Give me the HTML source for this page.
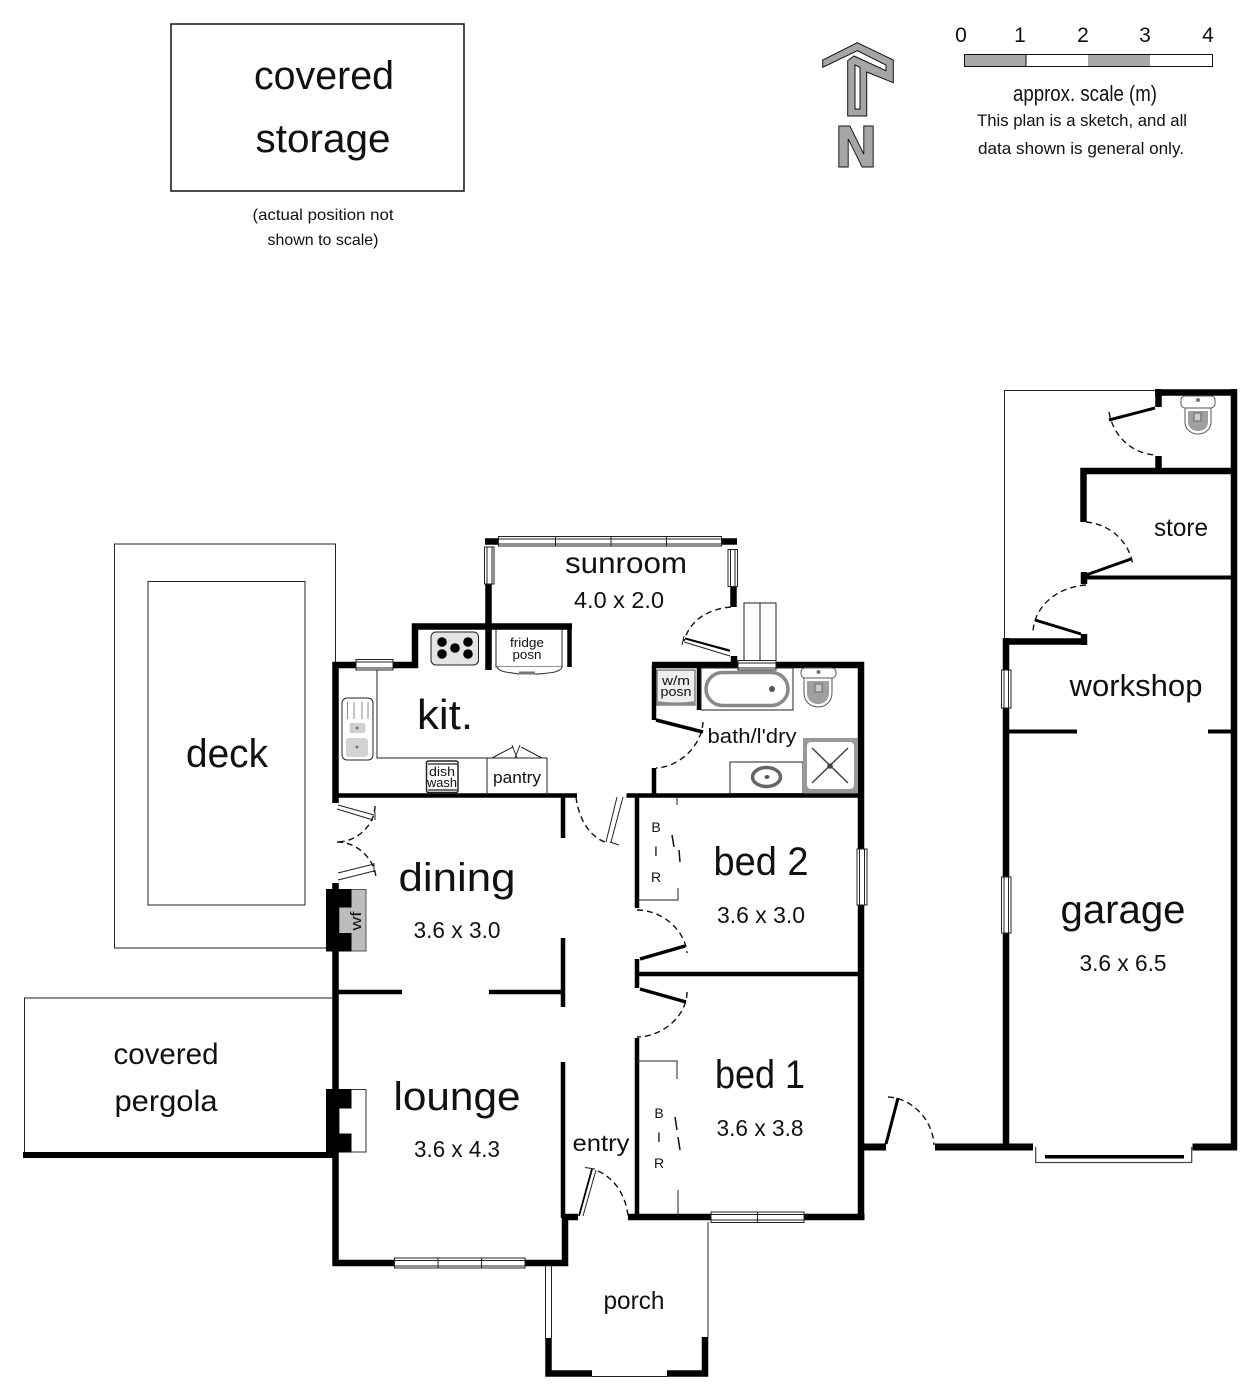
<!DOCTYPE html>
<html lang="en"><head><meta charset="utf-8"><title>Floor plan</title>
<style>
html,body{margin:0;padding:0;background:#fff}
svg{display:block}
text{font-family:"Liberation Sans",sans-serif;fill:#111;text-anchor:middle}
.w{stroke:#000;fill:none}
.t{stroke:#222;stroke-width:1;fill:none}
.d{stroke:#111;stroke-width:1.4;fill:none;stroke-dasharray:6 4}
.win{fill:#fff;stroke:#222;stroke-width:1}
</style></head><body>
<svg width="1260" height="1400" viewBox="0 0 1260 1400" xmlns="http://www.w3.org/2000/svg">
<rect width="1260" height="1400" fill="#fff"/>

<!-- storage -->
<rect x="171" y="24" width="293" height="167" fill="none" stroke="#111" stroke-width="1.5"/>
<text x="324" y="89" font-size="40" textLength="140" lengthAdjust="spacingAndGlyphs">covered</text>
<text x="323" y="152" font-size="40" textLength="135" lengthAdjust="spacingAndGlyphs">storage</text>
<text x="323" y="220" font-size="16" textLength="141" lengthAdjust="spacingAndGlyphs">(actual position not</text>
<text x="323" y="245" font-size="16" textLength="111" lengthAdjust="spacingAndGlyphs">shown to scale)</text>

<!-- north arrow -->
<path d="M893.300 60V82.700L866.700 72V116H847.700V60.700L854 56L886 70.700V65L857.300 50.700L822.700 67.300V60L857.300 42.700Z" fill="#a6a6a6" stroke="#111" stroke-width="1"/>
<path d="M855 65L860 67.300V109H855Z" fill="#fff" stroke="#111" stroke-width="1"/>
<text x="856" y="167" font-size="56" font-weight="bold" textLength="44" lengthAdjust="spacingAndGlyphs" style="font-family:'DejaVu Sans',sans-serif;fill:#a6a6a6;stroke:#111;stroke-width:1">N</text>

<!-- scale -->
<rect x="964.500" y="54.500" width="248" height="12" fill="#fff" stroke="#111" stroke-width="1"/>
<rect x="965" y="55" width="61" height="11" fill="#a8a8a8"/>
<rect x="1088" y="55" width="62" height="11" fill="#a8a8a8"/>
<line x1="1026" y1="55" x2="1026" y2="66" stroke="#111"/>
<g font-size="21">
<text x="961" y="42">0</text><text x="1020" y="42">1</text><text x="1083" y="42">2</text><text x="1145" y="42">3</text><text x="1208" y="42">4</text>
</g>
<text x="1085" y="101" font-size="22" textLength="144" lengthAdjust="spacingAndGlyphs">approx. scale (m)</text>
<text x="1082" y="126" font-size="17" textLength="210" lengthAdjust="spacingAndGlyphs">This plan is a sketch, and all</text>
<text x="1081" y="154" font-size="17" textLength="206" lengthAdjust="spacingAndGlyphs">data shown is general only.</text>

<!-- deck -->
<path class="t" d="M335.500 662V544H114.500V948H326"/>
<rect class="t" x="148" y="581.500" width="157" height="323.500"/>
<text x="227" y="767" font-size="40" textLength="82" lengthAdjust="spacingAndGlyphs">deck</text>

<!-- pergola -->
<path class="t" d="M332 998H24.500V1153"/>
<path class="w" stroke-width="6" d="M23 1155H333"/>
<text x="166" y="1064" font-size="30" textLength="105" lengthAdjust="spacingAndGlyphs">covered</text>
<text x="166" y="1111" font-size="30" textLength="103" lengthAdjust="spacingAndGlyphs">pergola</text>

<!-- house walls -->
<g class="w" stroke-width="6.500">
<path d="M335.500 662V803"/>
<path d="M335.500 883V1266"/>
<path d="M332.500 665H356M393 665H418M415 668V626.500H572"/>
<path d="M333 1263H395M525 1263H565V1217H578"/>
<path d="M628 1217H711M804 1217H864.500"/>
<path d="M861 662V849M861 905V1220"/>
<path d="M652 665H738M738 665H864"/>
<path d="M485 541.500H499M722 541.500H737"/>
<path d="M733.500 586V607"/>
<path d="M734 656V668"/>
<path d="M488.500 584V670"/>
</g>
<g class="w" stroke-width="4.500">
<path d="M569.500 627V667"/>
<path d="M333 795.500H577M626.500 795.500H861"/>
<path d="M563 795V838M563 938V1007M563 1062V1218"/>
<path d="M637 795V908M637 959V988M637 1038V1218"/>
<path d="M637 974H861"/>
<path d="M337 992H402M489 992H563"/>
<path d="M654 665V720M654 768V795"/>
<path d="M699 668V710"/>
</g>
<g class="w" stroke-width="3.500">
<path d="M656 720L703 732"/>
<path d="M640 959L685 946"/>
<path d="M640 989L686 1002"/>
</g>

<!-- windows: sunroom -->
<rect class="win" x="498.500" y="536.500" width="223" height="9.500"/>
<path class="t" d="M499 539H721M499 544H721M555.500 537V546M611 537V546M666.500 537V546"/>
<rect class="win" x="484.500" y="547" width="9.500" height="37"/>
<path class="t" d="M487 547V584M492 547V584"/>
<rect class="win" x="728" y="549.500" width="9.500" height="37"/>
<path class="t" d="M730.500 550V586M735 550V586"/>

<!-- sunroom door / steps -->
<path class="d" d="M731 607C708 609 690 620 684 641"/>
<path class="t" d="M685 638L730 650M684 642L730 656M684 636L682 645"/>
<path class="w" stroke-width="1.800" d="M685 638.500L730 651"/>
<rect class="t" x="744" y="603" width="32" height="58"/>
<path class="t" d="M760 603V661"/>
<rect class="win" x="738" y="660.500" width="38" height="9.500"/>
<path class="t" d="M738 663H776"/>

<!-- kitchen -->
<rect class="win" x="356" y="659.500" width="37" height="10.500"/>
<path class="t" d="M356 662H393M356 668H393"/>
<path class="t" d="M377 670V758H547V795M487 758V795"/>
<rect x="431" y="632" width="47.500" height="33" rx="5" fill="#e3e3e3" stroke="#222" stroke-width="1"/>
<circle cx="442" cy="642" r="4.800"/><circle cx="468" cy="642" r="4.800"/><circle cx="455" cy="648" r="4.800"/><circle cx="442" cy="654" r="4.800"/><circle cx="468" cy="654" r="4.800"/>
<path class="t" d="M496 629V667H562V629"/>
<path d="M497 667C500 673 510 672 518 674H538C548 673 560 673 562 667" fill="#fff" stroke="#222" stroke-width="1"/>
<rect x="519" y="671.500" width="16" height="3" fill="#777"/>
<text x="527" y="647" font-size="13" textLength="34" lengthAdjust="spacingAndGlyphs">fridge</text>
<text x="527" y="659" font-size="13" textLength="29" lengthAdjust="spacingAndGlyphs">posn</text>
<rect x="342" y="698" width="31" height="62" rx="5" fill="#fff" stroke="#222" stroke-width="1"/>
<path d="M347.500 702V719M354 702V719M362 702V719M368 702V719" stroke="#888" stroke-width="1" fill="none"/>
<rect x="349.500" y="723" width="16" height="10" rx="2" fill="#cfcfcf"/>
<rect x="346" y="738" width="22" height="19" rx="3" fill="#d3d3d3"/>
<circle cx="357" cy="728" r="1.500" fill="#777"/><circle cx="357" cy="747" r="1.500" fill="#777"/>
<rect x="426.500" y="761" width="31.500" height="31.500" rx="2" fill="#fff" stroke="#222" stroke-width="1.500"/>
<path d="M428 764H457M428 790H457" stroke="#444" stroke-width="1.500"/>
<text x="442" y="776" font-size="13" textLength="26" lengthAdjust="spacingAndGlyphs">dish</text>
<text x="442" y="787" font-size="13" textLength="30" lengthAdjust="spacingAndGlyphs">wash</text>
<path class="t" d="M492 758L513 747M542 758L521 747M512 745L517 758M520 745L515 758"/>
<text x="517" y="783" font-size="17" textLength="48" lengthAdjust="spacingAndGlyphs">pantry</text>
<text x="445" y="729" font-size="42" textLength="56" lengthAdjust="spacingAndGlyphs">kit.</text>

<!-- bathroom -->
<rect x="657" y="670" width="38" height="35" fill="#eee" stroke="#444" stroke-width="1"/>
<path d="M658 701C665 703 688 703 694 701V705H658Z" fill="#888"/>
<text x="676" y="685" font-size="13" textLength="28" lengthAdjust="spacingAndGlyphs">w/m</text>
<text x="676" y="696" font-size="13" textLength="31" lengthAdjust="spacingAndGlyphs">posn</text>
<rect class="t" x="701" y="668" width="92" height="42"/>
<rect x="706" y="672.500" width="82" height="33" rx="16.500" fill="#fff" stroke="#888" stroke-width="3.500"/>
<circle cx="772" cy="689" r="3" fill="#555"/>
<rect x="801" y="668" width="35" height="10" rx="4" fill="#fff" stroke="#555" stroke-width="1"/>
<circle cx="818.500" cy="672" r="2" fill="#777"/>
<path d="M804 678H832V693C832 702 825 707 818 707C811 707 804 702 804 693Z" fill="#fff" stroke="#555" stroke-width="1"/>
<path d="M807 681H829V693C829 700 824 704 818 704C812 704 807 700 807 693Z" fill="#a0a0a0"/>
<rect x="815" y="684" width="7" height="8" fill="#ccc" stroke="#666" stroke-width="1"/>
<path class="d" d="M703 722C702 745 680 767 656 768"/>
<text x="752" y="743" font-size="20" textLength="89" lengthAdjust="spacingAndGlyphs">bath/l'dry</text>
<rect class="t" x="730" y="762" width="73" height="31.500"/>
<ellipse cx="766.500" cy="777" rx="14" ry="9.500" fill="#fff" stroke="#666" stroke-width="3.500"/>
<ellipse cx="767" cy="777" rx="2.500" ry="2" fill="#555"/>
<rect x="803" y="738" width="55" height="55" fill="#999"/>
<rect x="807" y="742" width="47" height="47" rx="4" fill="#fff"/>
<path d="M812 748L848 783M848 748L812 783" stroke="#444" stroke-width="1.500"/>
<circle cx="830" cy="766" r="2.800" fill="#444"/>

<!-- hall door top -->
<path class="d" d="M576 797C579 820 590 838 608 843"/>
<path class="t" d="M617 797L606 842M623 797L611 842M610 842L619 845"/>

<!-- deck doors -->
<path class="t" d="M338 805L374 815M337 809L373 820M375 812V820"/>
<path class="d" d="M375 806C375 824 358 842 337 842"/>
<path class="d" d="M337 842C358 842 375 860 376 878"/>
<path class="t" d="M338 873L374 864M338 880L374 871M374 863V872"/>

<!-- wood fire dining -->
<rect x="339" y="889.500" width="27" height="61.500" fill="#bdbdbd" stroke="#555" stroke-width="1"/>
<path d="M326 889H351.500V907.500H339V933H351.500V951.500H326Z" fill="#000"/>
<text font-size="15" transform="translate(361 921) rotate(-90)" textLength="19" lengthAdjust="spacingAndGlyphs">wf</text>

<!-- fireplace lounge -->
<rect x="339" y="1089.500" width="27" height="62.500" fill="#fff" stroke="#333" stroke-width="1"/>
<path d="M326 1089H351.500V1108.500H339V1133.500H351.500V1152.500H326Z" fill="#000"/>

<!-- bedroom doors -->
<path class="d" d="M637 910C662 910 685 930 687 953"/>
<path class="d" d="M687 992C687 1016 662 1037 637 1037"/>

<!-- BIR bed 2 -->
<path class="t" d="M637 900H678V888M677 797V805"/>
<path d="M672 835L674 847M679 850L680 862" stroke="#111" stroke-width="1.500"/>
<g font-size="14"><text x="656" y="832">B</text><text x="656" y="856">I</text><text x="656" y="882">R</text></g>

<!-- BIR bed 1 -->
<path class="t" d="M637 1061H677V1079M678 1190V1216"/>
<path d="M675 1117L677 1130M678 1137L680 1150" stroke="#111" stroke-width="1.500"/>
<g font-size="14"><text x="659" y="1118">B</text><text x="659" y="1142">I</text><text x="659" y="1168">R</text></g>

<!-- entry door -->
<path class="t" d="M579 1216L592 1169M583 1216L596 1170M585 1167.500L595 1169"/>
<path class="w" stroke-width="1.800" d="M579 1216L592 1169"/>
<path class="d" d="M598 1171C614 1178 626 1195 628 1216"/>

<!-- windows -->
<rect class="win" x="394.500" y="1258" width="130.500" height="10"/>
<path class="t" d="M395 1260.500H525M395 1266H525M438 1258V1268M481.500 1258V1268"/>
<rect class="win" x="711" y="1212" width="93" height="10.500"/>
<path class="t" d="M711 1214.500H804M711 1220H804M757.500 1212V1222"/>
<rect class="win" x="857" y="849" width="10" height="56"/>
<path class="t" d="M859.500 849V905M864.500 849V905"/>

<!-- porch -->
<path class="t" d="M545.500 1266V1338M551.500 1266V1338M708 1222V1337M592 1376.500H667"/>
<path class="w" stroke-width="6.500" d="M548.500 1338V1373.500H592M667 1373.500H705V1337"/>

<!-- house labels -->
<text x="626" y="573" font-size="30" textLength="122" lengthAdjust="spacingAndGlyphs">sunroom</text>
<text x="619" y="608" font-size="23" textLength="90" lengthAdjust="spacingAndGlyphs">4.0 x 2.0</text>
<text x="457" y="891" font-size="40" textLength="117" lengthAdjust="spacingAndGlyphs">dining</text>
<text x="457" y="938" font-size="23" textLength="87" lengthAdjust="spacingAndGlyphs">3.6 x 3.0</text>
<text x="761" y="875" font-size="40" textLength="95" lengthAdjust="spacingAndGlyphs">bed 2</text>
<text x="761" y="923" font-size="23" textLength="88" lengthAdjust="spacingAndGlyphs">3.6 x 3.0</text>
<text x="457" y="1110" font-size="40" textLength="127" lengthAdjust="spacingAndGlyphs">lounge</text>
<text x="457" y="1157" font-size="23" textLength="86" lengthAdjust="spacingAndGlyphs">3.6 x 4.3</text>
<text x="760" y="1088" font-size="40" textLength="90" lengthAdjust="spacingAndGlyphs">bed 1</text>
<text x="760" y="1136" font-size="23" textLength="87" lengthAdjust="spacingAndGlyphs">3.6 x 3.8</text>
<text x="601" y="1151" font-size="23" textLength="57" lengthAdjust="spacingAndGlyphs">entry</text>
<text x="634" y="1309" font-size="25" textLength="61" lengthAdjust="spacingAndGlyphs">porch</text>

<!-- side door and link wall -->
<path class="w" stroke-width="7" d="M860 1147H886M935 1147H1033M1192.500 1147H1237"/>
<path class="w" stroke-width="3" d="M886 1144L898 1098"/>
<path class="d" d="M888 1097C912 1098 933 1120 934 1145"/>

<!-- garage -->
<path class="t" d="M1004.500 640V390.500H1155"/>
<g class="w" stroke-width="6.500">
<path d="M1155 392.500H1237"/>
<path d="M1234 389V1150"/>
<path d="M1158.500 389V407M1158.500 456V470"/>
<path d="M1080.500 471H1231"/>
<path d="M1083.500 468V522"/>
<path d="M1084 572V584"/>
<path d="M1003 641.500H1087"/>
<path d="M1084 634V645"/>
<path d="M1006 638V670M1006 708V877M1006 933V1150"/>
</g>
<path class="w" stroke-width="4" d="M1087 577.500H1231M1009 731.500H1077M1208 731.500H1231"/>
<path class="w" stroke-width="3" d="M1155 408L1109 420M1086 575L1131 559M1035 620L1081 634"/>
<path class="d" d="M1109 412C1113 436 1132 454 1156 455"/>
<path class="d" d="M1086 522C1110 524 1130 542 1133 566"/>
<path class="d" d="M1086 585C1058 587 1035 605 1033 631"/>
<rect x="1181" y="396" width="34" height="12" rx="4" fill="#fff" stroke="#555" stroke-width="1"/>
<circle cx="1198" cy="400" r="2" fill="#777"/>
<path d="M1185 408H1211V422C1211 430 1204 434 1198 434C1192 434 1185 430 1185 422Z" fill="#fff" stroke="#555" stroke-width="1"/>
<path d="M1188 411H1208V422C1208 428 1203 431 1198 431C1193 431 1188 428 1188 422Z" fill="#a0a0a0"/>
<rect x="1194" y="413" width="7" height="8" fill="#ccc" stroke="#666" stroke-width="1"/>
<rect class="win" x="1001.500" y="670" width="9.500" height="38"/>
<path class="t" d="M1004 670V708M1008.500 670V708"/>
<rect class="win" x="1001.500" y="877" width="9.500" height="56"/>
<path class="t" d="M1004 877V933M1008.500 877V933"/>
<path d="M1035.700 1147V1162.500H1191.700V1147" fill="none" stroke="#444" stroke-width="1.200"/>
<rect x="1045" y="1155" width="139" height="3.500" fill="#000"/>
<text x="1181" y="536" font-size="25" textLength="54" lengthAdjust="spacingAndGlyphs">store</text>
<text x="1136" y="696" font-size="31" textLength="133" lengthAdjust="spacingAndGlyphs">workshop</text>
<text x="1123" y="923" font-size="40" textLength="125" lengthAdjust="spacingAndGlyphs">garage</text>
<text x="1123" y="971" font-size="23" textLength="87" lengthAdjust="spacingAndGlyphs">3.6 x 6.5</text>
</svg>
</body></html>
